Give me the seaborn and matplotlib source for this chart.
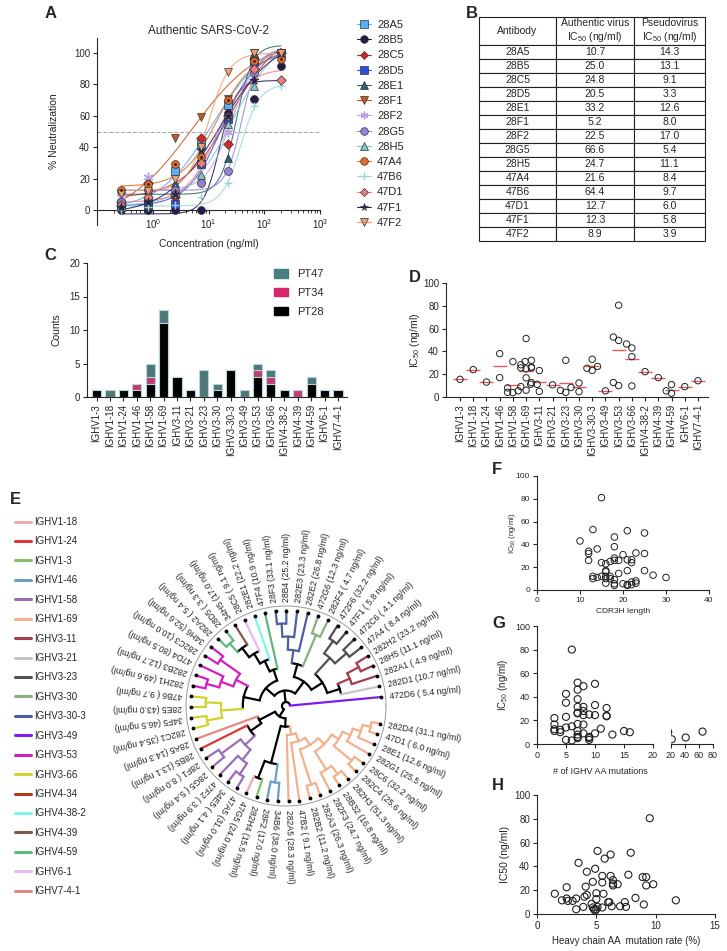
import numpy as np
import pandas as pd
import seaborn as sns
import matplotlib.pyplot as plt
from matplotlib.lines import Line2D
from matplotlib.patches import Patch
from matplotlib.ticker import LogLocator, NullFormatter

sns.set_theme(style='ticks')
plt.rcParams['font.family'] = ['Liberation Sans', 'DejaVu Sans']
plt.rcParams['mathtext.fontset'] = 'custom'
plt.rcParams['mathtext.rm'] = 'Liberation Sans'
plt.rcParams['mathtext.it'] = 'Liberation Sans:italic'
plt.rcParams['mathtext.bf'] = 'Liberation Sans:bold'
plt.rcParams['axes.linewidth'] = 0.8
plt.rcParams['xtick.major.width'] = 0.8
plt.rcParams['ytick.major.width'] = 0.8
plt.rcParams['xtick.major.size'] = 3
plt.rcParams['ytick.major.size'] = 3
plt.rcParams['xtick.major.pad'] = 2
plt.rcParams['ytick.major.pad'] = 2

# ---- A: neutralization of authentic virus
conc = [0.27, 0.82, 2.47, 7.41, 22.2, 66.7, 200]
antibodies = ['28A5', '28B5', '28C5', '28D5', '28E1', '28F1', '28F2', '28G5', '28H5',
              '47A4', '47B6', '47D1', '47F1', '47F2']
neut = [
    [4, 5, 25, 42, 67, 95, 100],
    [0, 0, 0, 0, 62, 71, 92],
    [5, 17, 8, 46, 42, 96, 100],
    [4, 4, 4, 29, 58, 91, 100],
    [2, 3, 17, 20, 33, 100, 100],
    [9, 8.5, 46, 59, 71, 100, 100],
    [8, 21, 13, 20, 50, 90, 100],
    [5, 12.5, 12.5, 17, 25, 87, 100],
    [3, 5, 10, 22, 55, 79, 100],
    [12.5, 16.5, 29.5, 33.5, 70, 95, 96],
    [0, 2, 3, 8, 17, 66, 79],
    [3, 8, 10, 30, 60, 90, 83],
    [2, 5, 10, 38, 60, 83, 100],
    [10, 12, 20, 40, 88, 100, 100],
]
ic50_authentic = [10.7, 25.0, 24.8, 20.5, 33.2, 5.2, 22.5, 66.6, 24.7, 21.6, 64.4, 12.7, 12.3, 8.9]
ic50_pseudo = [14.3, 13.1, 9.1, 3.3, 12.6, 8.0, 17.0, 5.4, 11.1, 8.4, 9.7, 6.0, 5.8, 3.9]

ab_colors = ['#5aaef5', '#231a4f', '#d42a1e', '#2f4de0', '#2f6470', '#c8561e', '#b8a2ea',
             '#9582d4', '#86c3c6', '#e06a28', '#9fd3dc', '#ec7d7d', '#1c2466', '#f0a070']
ab_markers = ['s', 'o', 'D', 's', '^', 'v', (6, 2, 0), 'o', '^', 'o', '+', 'D', '*', 'v']

# ---- antibody panel (tree order, C, D, E)
leaf_names = ['472D6', '282D1', '282A1', '28H5', '282H2', '47A4', '472C6', '47F1', '472F6',
              '282F4', '472G6', '282E2', '282E3', '28B4', '28F3', '47F4', '282E1', '28C5',
              '34H5', '28D5', '282A2', '34H6', '282C3', '47D4', '282B3', '282H1', '47B6',
              '28E5', '34F5', '282C1', '28A5', '28B5', '28F1', '28G5', '47F2', '34E5',
              '47A5', '47G5', '282H4', '28F2', '34B6', '282A5', '47B2', '282B2', '282A3',
              '282F3', '28B32', '282H3', '282C4', '28C6', '282G1', '28E1', '47D1', '282D4']
leaf_ic50 = [5.4, 10.7, 4.9, 11.1, 23.2, 8.4, 4.1, 5.8, 32.2, 4.7, 12.3, 26.8, 23.3, 25.2,
             33.1, 10.9, 22.2, 9.1, 17.0, 3.3, 5.4, 52.6, 10.0, 80.5, 12.7, 49.6, 9.7, 43.0,
             46.5, 35.4, 14.3, 13.1, 8.0, 5.4, 3.9, 4.1, 31.0, 24.0, 15.5, 17.0, 38.0, 28.3,
             9.1, 11.2, 26.3, 24.7, 16.8, 51.3, 25.6, 32.2, 25.5, 12.6, 6.0, 31.1]
leaf_gene = ['IGHV3-49', 'IGHV3-21'] + ['IGHV3-11'] * 3 + ['IGHV3-23'] * 4 + ['IGHV3-30'] * 2 \
    + ['IGHV3-30-3'] * 4 + ['IGHV4-59', 'IGHV4-38-2', 'IGHV6-1', 'IGHV4-39', 'IGHV4-59', 'IGHV4-59'] \
    + ['IGHV3-53'] * 5 + ['IGHV3-66'] * 4 + ['IGHV7-4-1', 'IGHV1-24'] + ['IGHV1-58'] * 5 \
    + ['IGHV1-18', 'IGHV1-3', 'IGHV1-46', 'IGHV1-46'] + ['IGHV1-69'] * 13

tree = [0,
        [[[[1, [2, [3, 4]]], [[5, 6], [7, 8]]], [[9, 10], [11, [12, [13, 14]]]]],
         [[15, [16, [17, [18, [19, 20]]]]], [[[21, 22], [23, [24, 25]]], [[26, 27], [28, 29]]]]],
        [[30, [31, [[32, 33], [34, [35, 36]]]]],
         [[[37, 38], [39, 40]],
          [41, [42, [[43, 44], [[45, [46, 47]], [[48, 49], [50, [51, [52, 53]]]]]]]]]]]

gene_categories = ['IGHV1-3', 'IGHV1-18', 'IGHV1-24', 'IGHV1-46', 'IGHV1-58', 'IGHV1-69',
                   'IGHV3-11', 'IGHV3-21', 'IGHV3-23', 'IGHV3-30', 'IGHV3-30-3', 'IGHV3-49',
                   'IGHV3-53', 'IGHV3-66', 'IGHV4-38-2', 'IGHV4-39', 'IGHV4-59', 'IGHV6-1',
                   'IGHV7-4-1']
legend_genes = ['IGHV1-18', 'IGHV1-24', 'IGHV1-3', 'IGHV1-46', 'IGHV1-58', 'IGHV1-69',
                'IGHV3-11', 'IGHV3-21', 'IGHV3-23', 'IGHV3-30', 'IGHV3-30-3', 'IGHV3-49',
                'IGHV3-53', 'IGHV3-66', 'IGHV4-34', 'IGHV4-38-2', 'IGHV4-39', 'IGHV4-59',
                'IGHV6-1', 'IGHV7-4-1']
gene_colors = ['#f2a7b5', '#d83a3a', '#86c06a', '#6d9fc2', '#9a6db8', '#f2b08e', '#a33c50',
               '#c3c6c6', '#505050', '#86b07e', '#4d5fa3', '#7a1cf2', '#d21fc2', '#d3d22e',
               '#b0391c', '#7ef3f3', '#7b5a52', '#5fba7f', '#e8b9f1', '#e38a86']
gene_color = dict(zip(legend_genes, gene_colors))

# ---- F, G, H
cdr3_len = [15, 13, 10, 14, 12, 12, 12, 13, 13, 14, 15, 15, 16, 16, 16, 16, 16, 16, 17, 17,
            17, 18, 18, 18, 18, 18, 18, 18, 19, 19, 20, 20, 21, 21, 21, 21, 21, 22, 22, 22,
            22, 23, 23, 23, 25, 25, 25, 27, 30]
cdr3_ic50 = [81, 53, 43, 36, 34, 32, 26, 12, 10, 11, 12, 24, 23, 17, 16, 12, 10, 6, 25, 12,
             10, 46.5, 38, 28, 26, 9, 5.5, 4, 26, 14.5, 31, 5.5, 52, 26.5, 17, 4.7, 4, 26.5,
             24, 7, 4.7, 32.5, 8, 6, 50, 32, 17, 13, 11]
mut_count = [6, 7, 7, 8, 10, 5, 5, 5, 7, 7, 8, 7, 7, 8, 8, 9, 10, 10, 12, 12, 12, 3, 3, 3, 3,
             4, 4, 5, 6, 7, 8, 7, 7, 7, 7, 8, 9, 9, 9, 10, 11, 13, 15, 16, 5, 6, 21, 41, 65]
mut_ic50 = [80, 52, 46, 49, 51, 42.5, 35, 23, 38, 31.5, 31.5, 26.5, 26, 28, 24.5, 25, 33,
            24.5, 30.5, 24, 23.5, 22, 16.5, 12.5, 11, 12, 10, 14, 15, 17, 16.5, 11, 8, 6, 5,
            9, 6, 5, 3.5, 9, 13, 8, 11, 10, 3.5, 3, 4, 5.5, 10.5]
mut_rate = [9.5, 5.1, 6.2, 7.9, 5.7, 3.5, 4.9, 4.2, 5.5, 6.2, 7.7, 8.9, 9.2, 4.7, 5.5, 6.4,
            6.4, 6.4, 6.8, 9.2, 9.8, 2.5, 4.1, 1.5, 5.0, 5.6, 4.2, 4.0, 8.3, 2.1, 2.5, 2.6,
            3.0, 3.3, 5.0, 6.0, 6.1, 7.4, 11.7, 3.9, 4.6, 6.3, 7.0, 7.5, 9.0, 3.3, 4.7, 4.8,
            5.0, 5.1, 5.5, 4.9]
rate_ic50 = [80.5, 53, 50, 51.5, 46.5, 43, 38, 35.5, 32, 32, 33, 31, 31, 27, 26.5, 28.5,
             25.5, 24, 25, 24, 25, 22.5, 23, 17, 17.5, 17, 16, 14.5, 13.5, 11.5, 13, 11, 11,
             13, 12.5, 10, 10, 10, 11.5, 6, 8.5, 6.5, 6.5, 6, 8, 4, 5.5, 4, 4, 6, 5.5, 3]

W, H = 727, 951
fig = plt.figure(figsize=(W / 100, H / 100), dpi=100)


def box(l, t, r, b):
    return [l / W, 1 - b / H, (r - l) / W, (b - t) / H]


def letter(x, y, s):
    fig.text(x / W, 1 - y / H, s, fontsize=12, fontweight='bold', ha='left', va='center')


# ================= A =================
axA = fig.add_axes(box(97, 38, 320, 225))
logc = np.log10(conc)
gE, gHs, gB, gT = np.meshgrid(np.arange(-0.5, 3.0, 0.02), np.arange(0.5, 3.01, 0.1),
                              np.arange(-10, 16, 2.5), np.arange(80, 116, 2.5), indexing='ij')
xs = np.logspace(np.log10(0.27), np.log10(200), 120)
handles = []
for name, vals, col, mk in zip(antibodies, neut, ab_colors, ab_markers):
    y = np.array(vals, dtype=float)
    pred = gB[..., None] + (gT - gB)[..., None] / (1 + 10 ** ((gE[..., None] - logc) * gHs[..., None]))
    k = np.unravel_index(np.argmin(((pred - y) ** 2).sum(-1)), gE.shape)
    e, h, b, t = gE[k], gHs[k], gB[k], gT[k]
    sns.lineplot(x=xs, y=b + (t - b) / (1 + 10 ** ((e - np.log10(xs)) * h)), color=col,
                 lw=0.8, alpha=0.85, ax=axA)
    filled = mk not in ('+', (6, 2, 0))
    size = 24 if mk == 'D' else 48 if mk == '*' else 32 if filled else 40
    sns.scatterplot(x=conc, y=vals, marker=mk, color=col, s=size,
                    edgecolor='#333333' if filled else col, linewidth=0.5 if filled else 1.0,
                    ax=axA, zorder=3, clip_on=False)
    if name == '47A4':
        sns.scatterplot(x=conc, y=vals, marker='o', color='#3a1a10', s=4, linewidth=0,
                        ax=axA, zorder=4)
    handles.append(Line2D([], [], color=col, marker=mk, markersize=4.5 if mk == 'D' else 5.5,
                          lw=0.8, markeredgecolor='#333333' if filled else col,
                          markeredgewidth=0.5 if filled else 1.0, label=name))
axA.axhline(50, color='#aaaaaa', ls='--', lw=0.8)
axA.set_xscale('log')
axA.set_xlim(0.1, 1000)
axA.set_ylim(-9.6, 109.6)
axA.set_xticks([1, 10, 100, 1000])
axA.xaxis.set_minor_locator(LogLocator(base=10, subs=np.arange(2, 10)))
axA.xaxis.set_minor_formatter(NullFormatter())
axA.tick_params(axis='x', which='minor', length=2, width=0.6)
axA.set_yticks([0, 20, 40, 60, 80, 100])
axA.spines['bottom'].set_position(('data', 0))
sns.despine(ax=axA)
axA.tick_params(labelsize=7)
axA.set_title('Authentic SARS-CoV-2', fontsize=8.5, pad=3)
axA.set_ylabel('% Neutralization', fontsize=7.5)
axA.yaxis.set_label_coords(-0.17, 0.5)
axA.set_xlabel('Concentration (ng/ml)', fontsize=7.5, labelpad=1)
axA.xaxis.set_label_coords(0.5, -0.075)
fig.legend(handles=handles, loc='upper left', bbox_to_anchor=(357 / W, 1 - 20 / H),
           frameon=False, fontsize=8, handlelength=1.3, handletextpad=0.5,
           labelspacing=0.47, borderpad=0, borderaxespad=0)
letter(45, 14, 'A')

# ================= B =================
axB = fig.add_axes(box(479, 17, 705, 241))
axB.axis('off')
rows = [[a, f'{u:.1f}', f'{p:.1f}'] for a, u, p in zip(antibodies, ic50_authentic, ic50_pseudo)]
header = ['Antibody', 'Authentic virus\nIC$_{50}$ (ng/ml)', 'Pseudovirus\nIC$_{50}$ (ng/ml)']
tbl = axB.table(cellText=rows, colLabels=header, cellLoc='center', bbox=[0, 0, 1, 1])
tbl.auto_set_font_size(False)
colw = [77 / 226, 78 / 226, 71 / 226]
for (r, c), cell in tbl.get_celld().items():
    cell.set_width(colw[c])
    cell.set_height(2 / 16 if r == 0 else 1 / 16)
    cell.set_linewidth(0.8)
    cell.set_edgecolor('#222222')
    cell.get_text().set_fontsize(7.5)
    cell.PAD = 0.02
letter(466, 14, 'B')

# ================= C =================
patient = ['PT47' if n.startswith('47') else 'PT34' if n.startswith('34') else 'PT28'
           for n in leaf_names]
dfc = pd.crosstab(pd.Series(leaf_gene, name='gene'), pd.Series(patient, name='pt'))
dfc = dfc.reindex(gene_categories).fillna(0)
axC = fig.add_axes(box(87, 263, 347, 397))
sns.barplot(x=dfc.index, y=dfc['PT28'] + dfc['PT34'] + dfc['PT47'], order=gene_categories,
            color='#477e7f', width=0.68, edgecolor='#b8d4d8', linewidth=0.8, errorbar=None,
            ax=axC)
sns.barplot(x=dfc.index, y=dfc['PT28'] + dfc['PT34'], order=gene_categories,
            color='#d4286c', width=0.68, edgecolor='#b8d4d8', linewidth=0.8, errorbar=None,
            ax=axC)
sns.barplot(x=dfc.index, y=dfc['PT28'], order=gene_categories, color='black', width=0.68,
            edgecolor='#b8d4d8', linewidth=0.8, errorbar=None, ax=axC)
axC.set_xlim(-0.71, 18.67)
axC.set_ylim(0, 20)
axC.set_yticks([0, 5, 10, 15, 20])
axC.set_xlabel('')
axC.set_ylabel('Counts', fontsize=7.5)
axC.yaxis.set_label_coords(-0.1, 0.5)
axC.tick_params(axis='x', rotation=90, labelsize=7)
axC.tick_params(axis='y', labelsize=7)
sns.despine(ax=axC)
axC.legend(handles=[Patch(color='#477e7f', label='PT47'), Patch(color='#d4286c', label='PT34'),
                    Patch(color='black', label='PT28')],
           loc='upper left', bbox_to_anchor=(274 / W, 1 - 269 / H), bbox_transform=fig.transFigure,
           frameon=False, fontsize=8, handlelength=1.3, handleheight=0.8, handletextpad=0.8,
           labelspacing=0.78, borderpad=0, borderaxespad=0)
letter(44, 255, 'C')

# ================= D =================
dfd = pd.DataFrame({'gene': leaf_gene, 'ic50': leaf_ic50})
axD = fig.add_axes(box(446, 283, 708, 397))
sns.swarmplot(data=dfd, x='gene', y='ic50', order=gene_categories, size=4.6, color='black',
              ax=axD, clip_on=False)
for coll in axD.collections:
    coll.set_facecolor('none')
    coll.set_edgecolor('#222222')
    coll.set_linewidth(0.7)
sns.pointplot(data=dfd, x='gene', y='ic50', order=gene_categories, errorbar=None,
              color='#e35c5c', marker='_', markersize=10, markeredgewidth=1.0,
              linestyle='none', ax=axD)
axD.set_xlim(-1.06, 18.76)
axD.set_ylim(0, 100)
axD.set_yticks([0, 20, 40, 60, 80, 100])
axD.set_xlabel('')
axD.set_ylabel('IC$_{50}$ (ng/ml)', fontsize=7.5)
axD.yaxis.set_label_coords(-0.092, 0.5)
axD.tick_params(axis='x', rotation=90, labelsize=7)
axD.tick_params(axis='y', labelsize=7)
sns.despine(ax=axD)
letter(409, 277, 'D')

# ================= E =================
n = len(leaf_names)
gap = 16.0
theta = np.deg2rad(5.4 + (360 - gap) / (n - 1) * np.arange(n))
r_leaf, r_root = 0.955, 0.04
axE = fig.add_axes(box(186, 606, 386, 806), projection='polar')
axE.set_ylim(0, 1)
axE.axis('off')


def height(node):
    return 0 if isinstance(node, int) else 1 + max(height(c) for c in node)


def leaves(node):
    return [node] if isinstance(node, int) else [l for c in node for l in leaves(c)]


def node_col(node):
    g = {leaf_gene[i] for i in leaves(node)}
    return gene_color[g.pop()] if len(g) == 1 else 'black'


def node_theta(node):
    if isinstance(node, int):
        return theta[node]
    return 0.5 * (node_theta(node[0]) + node_theta(node[-1]))


def node_r(node, depth):
    if isinstance(node, int):
        return r_leaf
    h = height(node)
    return r_root + (r_leaf - r_root) * depth / (depth + h)


def draw(node, depth):
    r = node_r(node, depth)
    arc = np.linspace(node_theta(node[0]), node_theta(node[-1]), 80)
    axE.plot(arc, np.full_like(arc, r), color=node_col(node), lw=1.6, solid_capstyle='butt')
    for c in node:
        axE.plot([node_theta(c)] * 2, [r, node_r(c, depth + 1)], color=node_col(c), lw=1.6,
                 solid_capstyle='projecting')
        if not isinstance(c, int):
            draw(c, depth + 1)


draw(tree, 0)
ring = np.linspace(0, 2 * np.pi, 400)
axE.plot(ring, np.ones_like(ring), color='#9a9a9a', lw=0.7, clip_on=False)
axE.scatter(theta, np.full(n, r_leaf), s=3, color='black', zorder=5)
for th, name, v in zip(theta, leaf_names, leaf_ic50):
    axE.text(th, 1.04, f'{name} ({v:4.1f} ng/ml)', rotation=np.degrees(th) % 360,
             rotation_mode='anchor', ha='left', va='center', fontsize=6.2, clip_on=False)
fig.legend(handles=[Line2D([], [], color=c, lw=2.2, label=g) for g, c in zip(legend_genes, gene_colors)],
           loc='upper left', bbox_to_anchor=(15 / W, 1 - 517 / H), frameon=False, fontsize=7,
           handlelength=1.6, handletextpad=0.4, labelspacing=0.97, borderpad=0, borderaxespad=0)
letter(10, 500, 'E')

# ================= F =================
axF = fig.add_axes(box(537, 476, 709, 590))
sns.scatterplot(x=cdr3_len, y=cdr3_ic50, s=22, facecolor='none', edgecolor='#222222',
                linewidth=0.7, ax=axF, clip_on=False)
axF.set_xlim(0, 40)
axF.set_ylim(0, 100)
axF.set_xticks([0, 10, 20, 30, 40])
axF.set_yticks([0, 20, 40, 60, 80, 100])
axF.tick_params(labelsize=6)
axF.set_xlabel('CDR3H length', fontsize=6, labelpad=3)
axF.set_ylabel('IC$_{50}$ (ng/ml)', fontsize=5.5)
axF.yaxis.set_label_coords(-0.11, 0.5)
sns.despine(ax=axF)
letter(492, 469, 'F')

# ================= G =================
axG1 = fig.add_axes(box(537, 626, 653, 744))
axG2 = fig.add_axes(box(671, 626, 713, 744))
for ax in (axG1, axG2):
    sns.scatterplot(x=mut_count, y=mut_ic50, s=26, facecolor='none', edgecolor='#222222',
                    linewidth=0.8, ax=ax)
    ax.set_ylim(0, 100)
    ax.tick_params(labelsize=6.5)
axG1.set_xlim(0, 20)
axG1.set_xticks([0, 5, 10, 15, 20])
axG1.set_yticks([0, 20, 40, 60, 80, 100])
axG2.set_xlim(20, 80)
axG2.set_xticks([20, 40, 60, 80])
axG2.set_yticks([])
sns.despine(ax=axG1)
sns.despine(ax=axG2, left=True)
axG1.set_ylabel('IC$_{50}$ (ng/ml)', fontsize=7)
axG1.yaxis.set_label_coords(-0.23, 0.5)
fig.text(600 / W, 1 - 772 / H, '# of IGHV AA mutations', fontsize=6.5, ha='center', va='center')
letter(492, 623, 'G')

# ================= H =================
axH = fig.add_axes(box(537, 795, 715, 914))
sns.scatterplot(x=mut_rate, y=rate_ic50, s=26, facecolor='none', edgecolor='#222222',
                linewidth=0.8, ax=axH, clip_on=False)
axH.set_xlim(0, 15)
axH.set_ylim(0, 100)
axH.set_xticks([0, 5, 10, 15])
axH.set_yticks([0, 20, 40, 60, 80, 100])
axH.tick_params(labelsize=7)
axH.set_xlabel('Heavy chain AA  mutation rate (%)', fontsize=7, labelpad=4)
axH.set_ylabel('IC50 (ng/ml)', fontsize=7.5)
axH.yaxis.set_label_coords(-0.15, 0.5)
sns.despine(ax=axH)
letter(492, 786, 'H')

fig.savefig('out.png', dpi=100)
